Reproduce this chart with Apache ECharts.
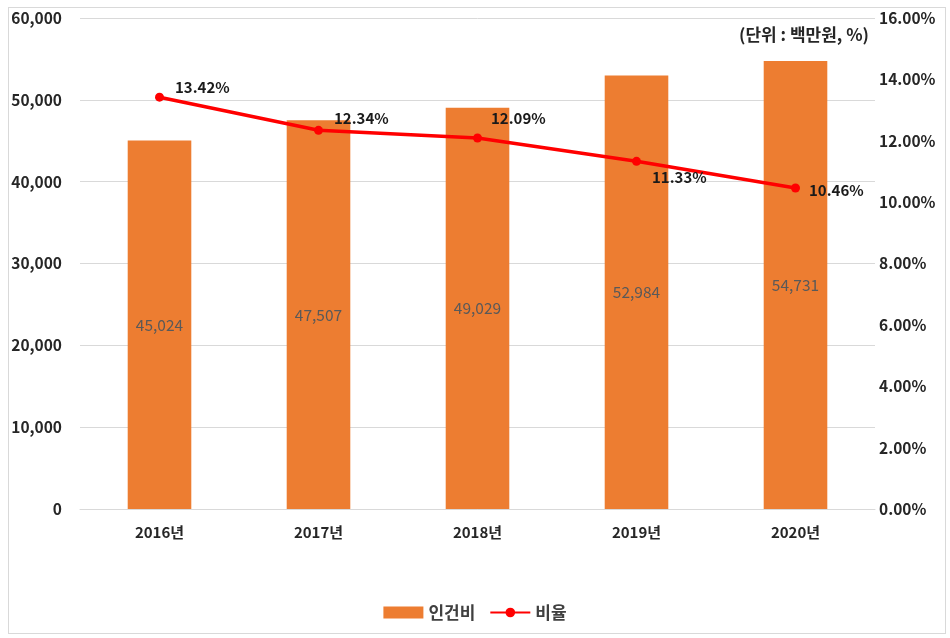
<!DOCTYPE html>
<html><head><meta charset="utf-8">
<script src="https://cdn.jsdelivr.net/npm/echarts@6/dist/echarts.min.js"></script>
<style>html,body{margin:0;padding:0;background:#fff}#c{width:950px;height:638px;position:relative}
#frame{position:absolute;left:8px;top:7px;width:938px;height:627px;border:1px solid #d9d9d9;box-sizing:border-box;pointer-events:none}</style>
</head><body><div id="c"></div><div id="frame"></div>
<script>
const categories = ['2016년','2017년','2018년','2019년','2020년'];
const laborCost = [45024, 47507, 49029, 52984, 54731];
const ratio = [13.42, 12.34, 12.09, 11.33, 10.46];
const leftTicks = {min:0, max:60000, interval:10000};
const rightTicks = {min:0, max:16, interval:2};
const unitText = '(단위 : 백만원, %)';

const labelPos = [[6,-10],[6,-12],[4,-20],[6,16],[4,2]];
const font = '"Noto Sans CJK KR", "Noto Sans", sans-serif';
const chart = echarts.init(document.getElementById('c'));
chart.setOption({
  animation:false,
  textStyle:{fontFamily:font},
  grid:{left:80,right:75,top:18,bottom:129},
  title:{text:unitText,right:76,top:21,textStyle:{fontSize:17,fontWeight:'bold',color:'#262626',fontFamily:font}},
  legend:{bottom:12,left:'center',itemGap:14,itemWidth:40,itemHeight:12,
    textStyle:{fontSize:17,fontWeight:'bold',color:'#404040',fontFamily:font},
    data:[{name:'인건비',icon:'rect'},{name:'비율'}]},
  xAxis:{type:'category',data:categories,
    axisLine:{lineStyle:{color:'#d9d9d9'}},axisTick:{show:false},
    axisLabel:{fontSize:15,fontWeight:'bold',color:'#262626',margin:16,fontFamily:font}},
  yAxis:[
    {type:'value',min:leftTicks.min,max:leftTicks.max,interval:leftTicks.interval,
     axisLine:{show:false},axisTick:{show:false},
     splitLine:{lineStyle:{color:'#d9d9d9'}},
     axisLabel:{fontSize:15.5,fontWeight:'bold',color:'#262626',margin:18,fontFamily:font,
       formatter:v=>v.toLocaleString('en-US')}},
    {type:'value',min:rightTicks.min,max:rightTicks.max,interval:rightTicks.interval,
     axisLine:{show:false},axisTick:{show:false},splitLine:{show:false},
     axisLabel:{fontSize:15.5,fontWeight:'bold',color:'#262626',margin:4,fontFamily:font,
       formatter:v=>v.toFixed(2)+'%'}}
  ],
  series:[
    {name:'인건비',type:'bar',data:laborCost,barWidth:'40%',
     itemStyle:{color:'#ed7d31'},
     label:{show:true,position:'inside',color:'#595959',fontSize:15.5,fontFamily:font,
       formatter:p=>p.value.toLocaleString('en-US')}},
    {name:'비율',type:'line',yAxisIndex:1,
     data:ratio.map((v,i)=>({value:v,label:{offset:labelPos[i]}})),
     symbol:'circle',symbolSize:9,
     lineStyle:{color:'#ff0000',width:3.5},itemStyle:{color:'#ff0000'},
     label:{show:true,position:'right',color:'#1a1a1a',fontWeight:'bold',fontSize:15,fontFamily:font,
       formatter:p=>p.value.toFixed(2)+'%'}}
  ]
});
</script></body></html>
